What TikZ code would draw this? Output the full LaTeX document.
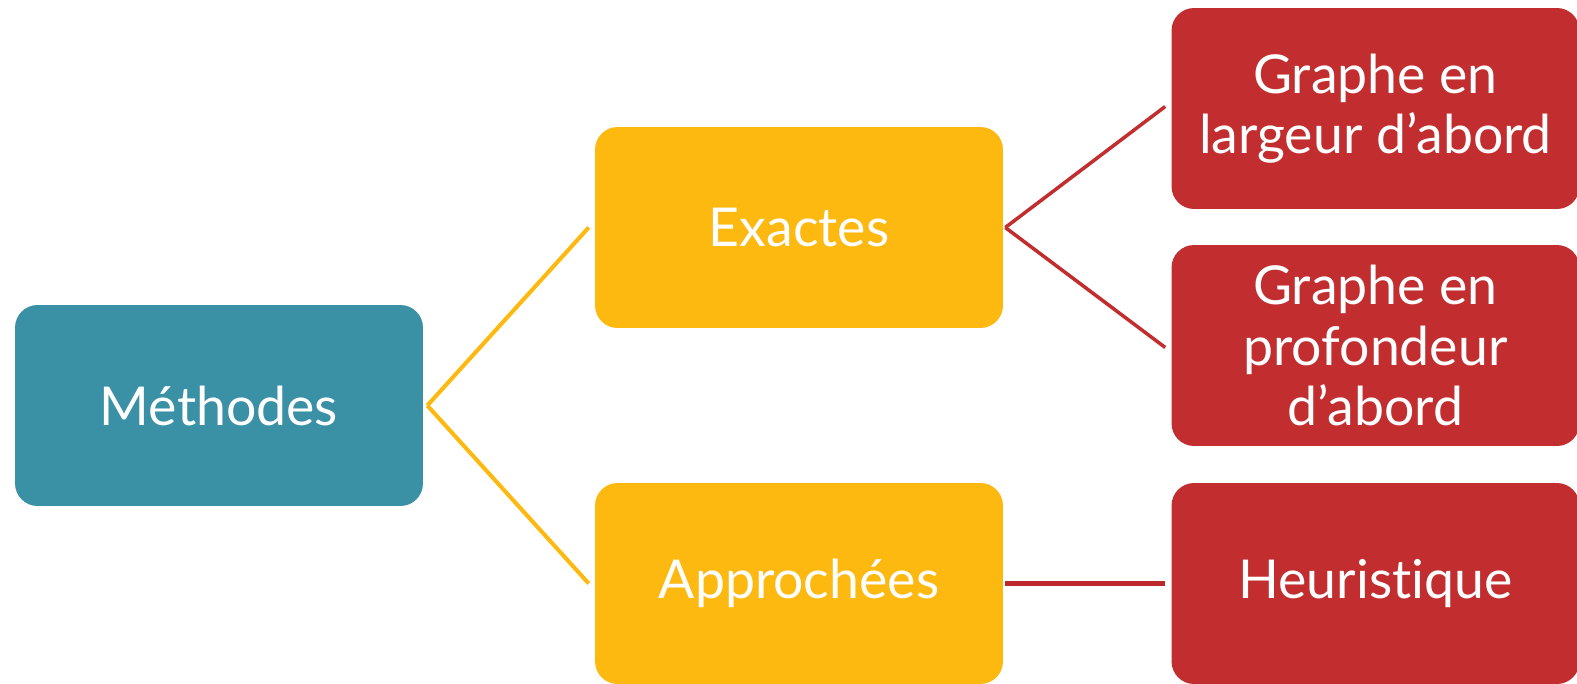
\documentclass[tikz,border=0pt]{standalone}
\usepackage{fontspec}
\setmainfont{Lato}[Ligatures={NoCommon,NoDiscretionary}]
\definecolor{teal}{RGB}{58,145,166}
\definecolor{ambre}{RGB}{253,185,15}
\definecolor{rouge}{RGB}{194,46,48}
\definecolor{rougesombre}{RGB}{188,40,46}
\tikzset{
    bloc/.style={rectangle, rounded corners=0.45cm, minimum width=8.16cm, minimum height=4.02cm,
                 text=white, align=center, font=\fontsize{30.5}{34.5}\selectfont},
    lienjaune/.style={ambre, line width=2.3pt},
    lienrouge/.style={rouge, line width=2pt}
}
\begin{document}
\begin{tikzpicture}[x=0.02cm, y=-0.02cm]
                \useasboundingbox(0,0)rectangle(1577,683);
                % les blocs
                \node[bloc, fill=teal]  (meth) at (219,405.5) {Méthodes};
                \node[bloc, fill=ambre] (exa)  at (799,227.5) {Exactes};
                \node[bloc, fill=ambre] (app)  at (799,583.5) {Approchées};
                \node[bloc, fill=rouge] (larg) at (1375.5,108.5) {Graphe en\\largeur d’abord};
                \node[bloc, fill=rouge] (prof) at (1375.5,345.5) {Graphe en\\profondeur\\d’abord};
                \node[bloc, fill=rouge] (heur) at (1375.5,583.5) {Heuristique};
                % les liens
                \coordinate (m) at ([xshift=0.08cm]meth.east);
                \coordinate (e) at ([xshift=0.04cm]exa.east);
                \draw[lienjaune] (m) -- ([xshift=-0.12cm]exa.west);
                \draw[lienjaune] (m) -- ([xshift=-0.12cm]app.west);
                \draw[lienrouge] (e) -- ([xshift=-0.12cm,yshift=0.04cm]larg.west);
                \draw[lienrouge] (e) -- ([xshift=-0.12cm,yshift=-0.04cm]prof.west);
                \draw[rougesombre, line width=3.4pt] ([xshift=0.04cm]app.east) -- ([xshift=-0.12cm]heur.west);
            \end{tikzpicture}
\end{document}
